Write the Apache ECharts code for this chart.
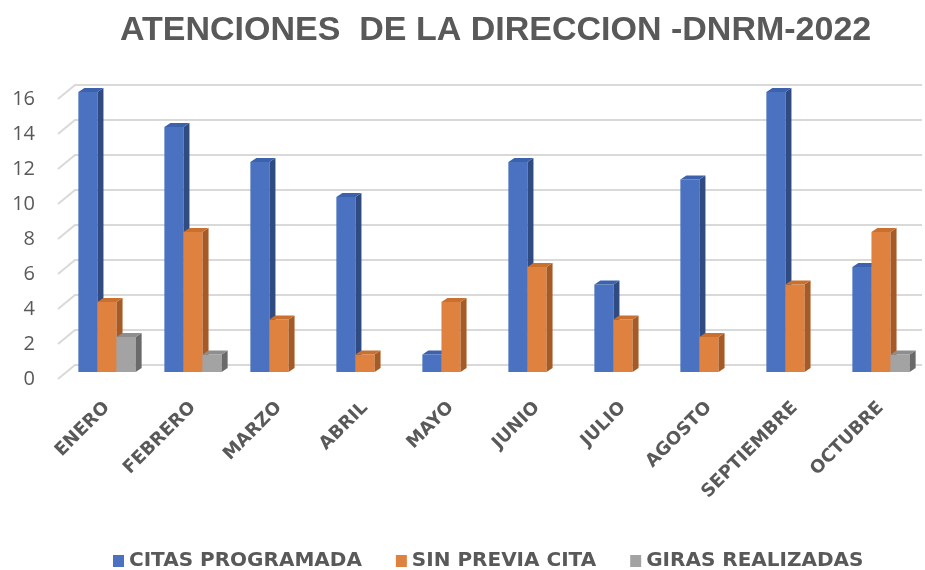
<!DOCTYPE html>
<html>
<head>
<meta charset="utf-8">
<script src="https://cdn.jsdelivr.net/npm/echarts@6/dist/echarts.min.js"></script>
<style>
  html, body { margin: 0; padding: 0; background: #fff; }
  #main { width: 925px; height: 570px; }
</style>
</head>
<body>
<div id="main"></div>
<script>
const months = ["ENERO", "FEBRERO", "MARZO", "ABRIL", "MAYO", "JUNIO", "JULIO", "AGOSTO", "SEPTIEMBRE", "OCTUBRE"];
const citasProgramada = [16, 14, 12, 10, 1, 12, 5, 11, 16, 6];
const sinPreviaCita = [4, 8, 3, 1, 4, 6, 3, 2, 5, 8];
const girasRealizadas = [2, 1, 0, 0, 0, 0, 0, 0, 0, 1];
const yTicks = [0, 2, 4, 6, 8, 10, 12, 14, 16];

const chart = echarts.init(document.getElementById("main"));
const grey = "#595959";

// faces: front, side, top
const palette = [
  ["#4a72c0", "#2f4b82", "#3c62ae"],
  ["#e0823f", "#a65a26", "#c9702f"],
  ["#a3a3a3", "#6a6a6a", "#8e8e8e"],
];
const depthX = 6, depthY = -4; // bar depth
const wallX = 17, wallY = -14; // gridline depth

function barRenderer(idx) {
  return function (params, api) {
    const val = api.value(1);
    if (!val) return null;
    const cat = api.value(0);
    const top = api.coord([cat, val]);
    const base = api.coord([cat, 0]);
    const band = api.size([1, 0])[0];
    const w = band * 0.222;
    const x = top[0] - (w * 3) / 2 + idx * w;
    const c = palette[idx];
    return {
      type: "group",
      children: [
        { type: "rect", shape: { x: x, y: top[1], width: w, height: base[1] - top[1] }, style: { fill: c[0] } },
        {
          type: "polygon",
          shape: { points: [[x + w, top[1]], [x + w + depthX, top[1] + depthY], [x + w + depthX, base[1] + depthY], [x + w, base[1]]] },
          style: { fill: c[1] },
        },
        {
          type: "polygon",
          shape: { points: [[x, top[1]], [x + depthX, top[1] + depthY], [x + w + depthX, top[1] + depthY], [x + w, top[1]]] },
          style: { fill: c[2] },
        },
      ],
    };
  };
}

function toPairs(arr) {
  return arr.map((v, i) => [i, v]);
}

let option = {
  backgroundColor: "#fff",
  animation: false,
  title: {
    text: "ATENCIONES  DE LA DIRECCION -DNRM-2022",
    left: 115,
    top: 9,
    textStyle: { fontFamily: "Liberation Sans", fontSize: 34, fontWeight: "bold", color: grey },
  },
  legend: {
    top: 546,
    left: 108,
    icon: "rect",
    itemWidth: 11,
    itemHeight: 12,
    itemGap: 34,
    data: ["CITAS PROGRAMADA", "SIN PREVIA CITA", "GIRAS REALIZADAS"],
    textStyle: { fontFamily: "DejaVu Sans", fontSize: 20, fontWeight: "bold", color: grey },
  },
  grid: [
    // bars (middle plane)
    { left: 64, right: 1, top: 92, bottom: 198 },
    // front plane: y labels and gridlines
    { left: 58, right: 20, top: 99, bottom: 191 },
  ],
  xAxis: [
    {
      type: "category",
      gridIndex: 0,
      data: months,
      axisLine: { show: false },
      axisTick: { show: false },
      axisLabel: {
        rotate: 45,
        margin: 33,
        interval: 0,
        fontFamily: "DejaVu Sans",
        fontSize: 18,
        fontWeight: "bold",
        color: grey,
      },
    },
    { type: "value", gridIndex: 1, min: 0, max: 1, show: false },
  ],
  yAxis: [
    { type: "value", gridIndex: 0, min: 0, max: 16, interval: 2, show: false },
    {
      type: "value",
      gridIndex: 1,
      min: 0,
      max: 16,
      interval: 2,
      axisLine: { show: false },
      axisTick: { show: false },
      splitLine: { show: false },
      axisLabel: { margin: 23, fontFamily: "Open Sans", fontSize: 20, color: grey },
    },
  ],
  series: [
    {
      name: "grid3d",
      type: "custom",
      xAxisIndex: 1,
      yAxisIndex: 1,
      silent: true,
      z: 1,
      data: yTicks.map((v) => [0, v]),
      renderItem: function (params, api) {
        const v = api.value(1);
        const p0 = api.coord([0, v]);
        const p1 = api.coord([1, v]);
        return {
          type: "polyline",
          shape: { points: [p0, [p0[0] + wallX, p0[1] + wallY], [p1[0] + wallX, p1[1] + wallY]] },
          style: { stroke: "#d9d9d9", lineWidth: 2, fill: null },
        };
      },
    },
    {
      name: "CITAS PROGRAMADA",
      type: "custom",
      itemStyle: { color: palette[0][0] },
      z: 2,
      encode: { x: 0, y: 1 },
      data: toPairs(citasProgramada),
      renderItem: barRenderer(0),
    },
    {
      name: "SIN PREVIA CITA",
      type: "custom",
      itemStyle: { color: palette[1][0] },
      z: 3,
      encode: { x: 0, y: 1 },
      data: toPairs(sinPreviaCita),
      renderItem: barRenderer(1),
    },
    {
      name: "GIRAS REALIZADAS",
      type: "custom",
      itemStyle: { color: palette[2][0] },
      z: 4,
      encode: { x: 0, y: 1 },
      data: toPairs(girasRealizadas),
      renderItem: barRenderer(2),
    },
  ],
};
chart.setOption(option);
</script>
</body>
</html>
